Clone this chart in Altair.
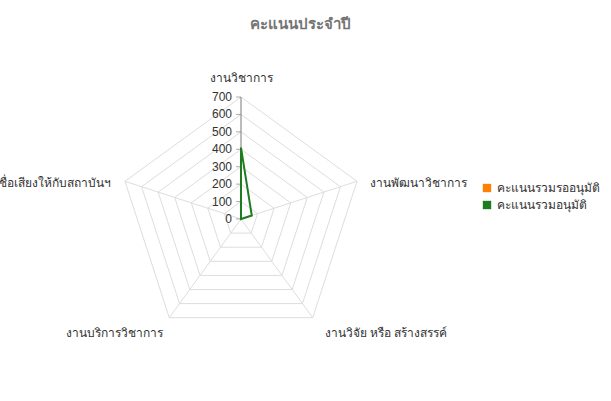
import altair as alt
import pandas as pd

categories = ["งานวิชาการ", "งานพัฒนาวิชาการ", "งานวิจัย หรือ สร้างสรรค์",
              "งานบริการวิชาการ", "งานสร้างชื่อเสียงให้กับสถาบันฯ"]
series_names = ["คะแนนรวมรออนุมัติ", "คะแนนรวมอนุมัติ"]
pending = [0, 0, 0, 0, 0]
approved = [410, 65, 0, 0, 0]
tick_values = [0, 100, 200, 300, 400, 500, 600, 700]
colors = ["#FF8000", "#1E7B1E"]
FONT = "Arial"
N = len(categories)
MAXV = 700

# tables built from the arrays
series_rows = []
for name, vals in zip(series_names, [pending, approved]):
    for i in range(N + 1):
        series_rows.append({"series": name, "i": i % N, "ord": i, "v": vals[i % N]})
series_df = pd.DataFrame(series_rows)

ring_rows = []
for lv in tick_values[1:]:
    for i in range(N + 1):
        ring_rows.append({"level": lv, "i": i % N, "ord": i, "v": lv})
ring_df = pd.DataFrame(ring_rows)

cat_df = pd.DataFrame({"cat": categories, "i": list(range(N)), "v": [MAXV] * N})
tick_df = pd.DataFrame({"t": tick_values})

ang = "datum.i * 2 * PI / %d" % N
calc_x = "datum.v * sin(%s)" % ang
calc_y = "datum.v * cos(%s)" % ang

xs = alt.Scale(domain=[-MAXV, MAXV], nice=False, zero=False)
ys = alt.Scale(domain=[-MAXV, MAXV], nice=False, zero=False)
X = alt.X("x:Q", scale=xs, axis=None)
Y = alt.Y("y:Q", scale=ys, axis=None)

rings = alt.Chart(ring_df).transform_calculate(x=calc_x, y=calc_y).mark_line(
    color="#dddddd", strokeWidth=1
).encode(x=X, y=Y, detail="level:N", order="ord:Q")

spokes = alt.Chart(cat_df).transform_calculate(x=calc_x, y=calc_y, x0="0", y0="0").mark_rule(
    color="#dddddd", strokeWidth=1
).encode(x=alt.X("x0:Q", scale=xs, axis=None), y=alt.Y("y0:Q", scale=ys, axis=None),
         x2="x:Q", y2="y:Q")

axis_line = alt.Chart(cat_df).transform_filter("datum.i == 0").transform_calculate(
    x=calc_x, y=calc_y, x0="0", y0="0").mark_rule(color="#888888", strokeWidth=1).encode(
    x=alt.X("x0:Q", scale=xs, axis=None), y=alt.Y("y0:Q", scale=ys, axis=None),
    x2="x:Q", y2="y:Q")

tick_marks = alt.Chart(tick_df).transform_calculate(x0="0").mark_tick(
    orient="horizontal", size=5, thickness=1, color="#888888", xOffset=-2.5
).encode(x=alt.X("x0:Q", scale=xs, axis=None), y=alt.Y("t:Q", scale=ys, axis=None))

tick_labels = alt.Chart(tick_df).transform_calculate(x0="0").mark_text(
    align="right", baseline="middle", dx=-9, font=FONT, fontSize=12, color="#333333"
).encode(x=alt.X("x0:Q", scale=xs, axis=None), y=alt.Y("t:Q", scale=ys, axis=None),
         text="t:Q")

def cat_label(idx, align, dx, dy):
    return alt.Chart(cat_df).transform_filter("datum.i == %d" % idx).transform_calculate(
        x=calc_x, y=calc_y).mark_text(
        align=align, baseline="middle", dx=dx, dy=dy, font=FONT, fontSize=12, color="#333333"
    ).encode(x=X, y=Y, text="cat:N")

labels = [
    cat_label(0, "center", 0, -19),
    cat_label(1, "left", 13, 2),
    cat_label(2, "left", 12, 15),
    cat_label(3, "right", -6, 15),
    cat_label(4, "right", -14, 2),
]

color_scale = alt.Scale(domain=series_names, range=colors)

lines = alt.Chart(series_df).transform_calculate(x=calc_x, y=calc_y).mark_line(
    strokeWidth=2
).encode(x=X, y=Y, order="ord:Q",
         color=alt.Color("series:N", scale=color_scale, sort=series_names, legend=None))

legend_layer = alt.Chart(series_df).transform_calculate(
    x=calc_x, y=calc_y).mark_square(size=70, opacity=1, filled=True).encode(
    x=X, y=Y,
    color=alt.Color("series:N", scale=color_scale, sort=series_names,
                    legend=alt.Legend(title=None, orient="none", legendX=362, legendY=85,
                                      symbolType="square", symbolSize=70,
                                      labelFont=FONT, labelFontSize=12,
                                      labelColor="#333333", rowPadding=5,
                                      symbolStrokeWidth=0)),
    opacity=alt.value(0))

chart = alt.layer(rings, spokes, axis_line, tick_marks, tick_labels, *labels,
                  lines, legend_layer).resolve_legend(color="independent").properties(
    width=244, height=244,
    autosize=alt.AutoSizeParams(type="none"),
    padding={"left": 119, "top": 97, "right": 248, "bottom": 60},
    title=alt.TitleParams("คะแนนประจำปี", font=FONT, fontSize=15, fontWeight="bold",
                          color="#757575", anchor="middle", dx=59, dy=-36),
).configure_view(stroke=None)

chart.save("out.html", embed_options={"renderer": "svg", "actions": False})
